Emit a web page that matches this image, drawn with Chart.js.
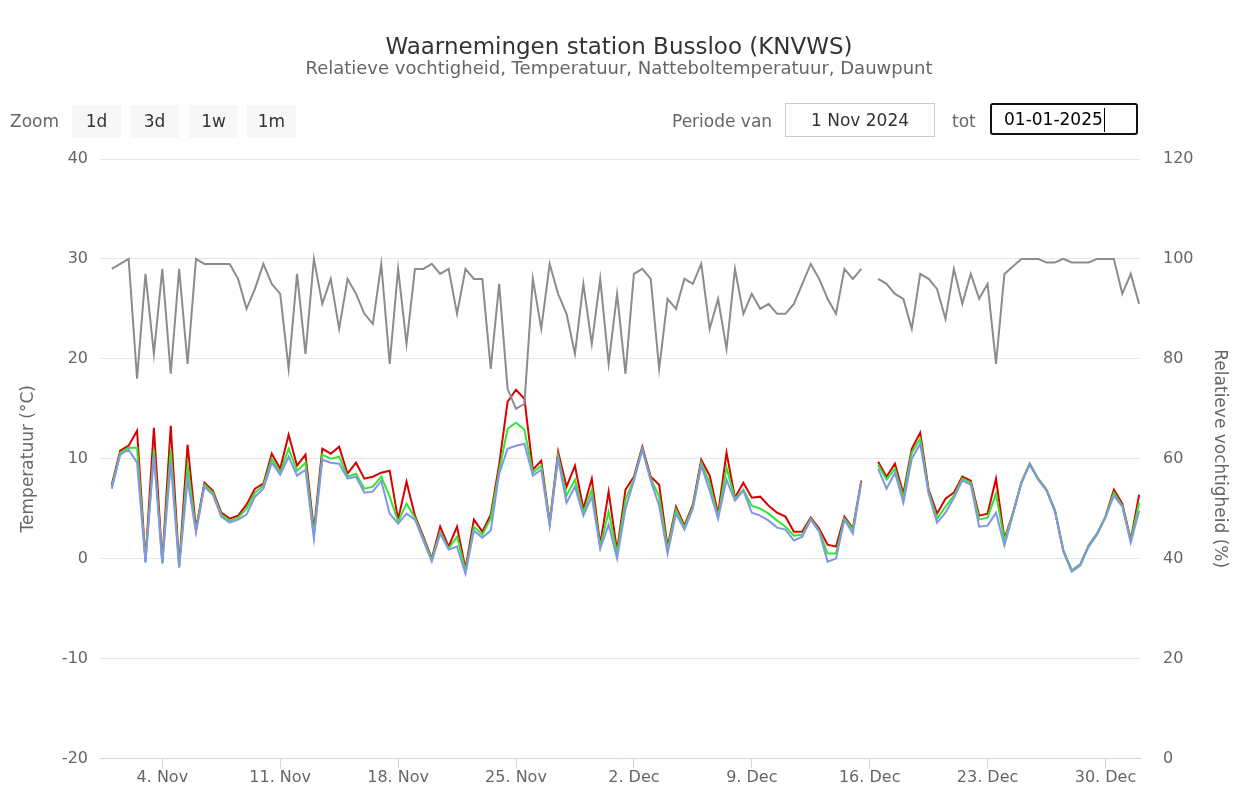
<!DOCTYPE html>
<html lang="nl">
<head>
<meta charset="utf-8">
<title>Waarnemingen station Bussloo (KNVWS)</title>
<script src="https://cdn.jsdelivr.net/npm/chart.js@4.4.1/dist/chart.umd.min.js"></script>
<style>
  body { margin: 0; background: #fff; font-family: "DejaVu Sans", sans-serif; }
  #wrap { position: relative; width: 1238px; height: 791px; }
  #chart { position: absolute; left: 0; top: 0; }
  .lbl { position: absolute; top: 105px; height: 33px; line-height: 33px; font-size: 17px; color: #666; }
  .btn { position: absolute; top: 105px; width: 49px; height: 33px; line-height: 33px; background: #f7f7f7;
         color: #333; font-size: 17px; text-align: center; }
  .inp { position: absolute; top: 103px; height: 34px; line-height: 32px; border: 1px solid #ccc;
         color: #333; font-size: 17px; text-align: center; box-sizing: border-box; }
  .inp.actief { border: 2px solid #111; border-radius: 3px; color: #000; line-height: 28px; height: 32px;
                text-align: left; padding-left: 12px; }
  .cursor { display: inline-block; width: 1px; height: 24px; background: #000; vertical-align: middle; margin-left: 1px; }
</style>
</head>
<body>
<div id="wrap">
  <canvas id="chart" width="1238" height="791"></canvas>
  <div class="lbl" style="left:10px">Zoom</div>
  <div class="btn" style="left:72px">1d</div>
  <div class="btn" style="left:130px">3d</div>
  <div class="btn" style="left:189px">1w</div>
  <div class="btn" style="left:247px">1m</div>
  <div class="lbl" style="left:672px">Periode van</div>
  <div class="inp" style="left:785px;width:150px">1 Nov 2024</div>
  <div class="lbl" style="left:952px">tot</div>
  <div class="inp actief" style="left:990px;width:148px">01-01-2025<span class="cursor"></span></div>
</div>
<script>
// metingen om de 12 uur, vanaf 1 nov 2024 00:00
const stapUren = 12;
const tickDagen = [3, 10, 17, 24, 31, 38, 45, 52, 59];
const tickLabels = ['4. Nov', '11. Nov', '18. Nov', '25. Nov', '2. Dec', '9. Dec', '16. Dec', '23. Dec', '30. Dec'];

const temperatuur = [
  7.4, 10.8, 11.3, 12.8, -0.2, 13.1, -0.3, 13.3, -0.7, 11.4, 3.0, 7.6, 6.8, 4.6,
  4.0, 4.3, 5.4, 7.0, 7.5, 10.5, 9.0, 12.4, 9.3, 10.4, 2.8, 11.0, 10.5, 11.2,
  8.5, 9.6, 8.0, 8.2, 8.6, 8.8, 3.9, 7.7, 4.3, 2.2, 0.0, 3.2, 1.2, 3.2,
  -1.0, 3.9, 2.7, 4.4, 9.4, 15.7, 16.9, 16.0, 8.9, 9.8, 3.6, 10.7, 7.2, 9.3,
  5.0, 8.0, 1.4, 6.7, 0.8, 6.9, 8.2, 11.2, 8.2, 7.4, 1.2, 5.2, 3.3, 5.4,
  9.9, 8.3, 4.5, 10.6, 6.1, 7.6, 6.1, 6.2, 5.3, 4.6, 4.2, 2.7, 2.7, 4.1,
  3.0, 1.4, 1.2, 4.2, 3.0, 7.8, null, 9.7, 8.2, 9.5, 6.5, 11.0, 12.6, 6.9,
  4.5, 6.0, 6.6, 8.2, 7.8, 4.3, 4.5, 8.0, 2.0, 4.5, 7.6, 9.5, 8.0, 6.9,
  4.8, 0.8, -1.2, -0.6, 1.3, 2.5, 4.2, 6.9, 5.5, 1.9, 6.4
];
const natteBol = [
  7.2, 10.6, 11.1, 11.1, -0.3, 10.9, -0.4, 10.9, -0.8, 9.3, 2.8, 7.4, 6.6, 4.4,
  3.8, 4.1, 5.0, 6.6, 7.3, 10.0, 8.6, 11.0, 8.8, 9.6, 2.4, 10.4, 10.0, 10.2,
  8.2, 8.5, 7.0, 7.2, 8.2, 6.2, 3.7, 5.5, 4.1, 2.0, -0.1, 2.7, 1.0, 2.2,
  -1.2, 3.2, 2.4, 4.0, 8.8, 13.0, 13.6, 12.9, 8.6, 9.3, 3.5, 10.3, 6.3, 7.9,
  4.6, 6.9, 1.2, 4.7, 0.5, 5.9, 8.0, 11.0, 8.0, 6.2, 0.9, 4.9, 3.1, 5.2,
  9.6, 7.5, 4.2, 9.1, 6.0, 6.9, 5.3, 5.0, 4.5, 3.8, 3.2, 2.3, 2.4, 4.0,
  2.8, 0.5, 0.5, 4.0, 2.9, 7.7, null, 9.4, 7.9, 9.0, 6.1, 10.6, 12.0, 6.7,
  4.0, 5.2, 6.3, 8.0, 7.6, 3.9, 4.1, 6.5, 1.8, 4.5, 7.6, 9.5, 8.0, 6.9,
  4.8, 0.8, -1.2, -0.6, 1.3, 2.5, 4.2, 6.6, 5.3, 1.8, 5.6
];
const dauwpunt = [
  7.0, 10.4, 10.9, 9.6, -0.4, 10.3, -0.5, 9.6, -0.9, 7.9, 2.6, 7.2, 6.4, 4.2,
  3.6, 3.9, 4.4, 6.2, 7.0, 9.6, 8.4, 10.2, 8.3, 8.9, 2.0, 9.9, 9.6, 9.5,
  8.0, 8.2, 6.6, 6.7, 7.8, 4.5, 3.5, 4.5, 3.9, 1.8, -0.3, 2.5, 0.9, 1.2,
  -1.5, 2.8, 2.1, 2.8, 8.5, 11.0, 11.3, 11.5, 8.3, 8.9, 3.3, 10.0, 5.6, 7.2,
  4.3, 6.2, 1.0, 3.4, 0.0, 5.0, 7.8, 10.9, 7.8, 5.3, 0.5, 4.5, 2.9, 5.0,
  9.3, 6.8, 4.0, 7.9, 5.8, 6.8, 4.6, 4.3, 3.8, 3.1, 2.9, 1.8, 2.2, 3.9,
  2.7, -0.3, 0.0, 3.9, 2.5, 7.6, null, 9.0, 7.0, 8.6, 5.6, 10.0, 11.5, 6.5,
  3.6, 4.6, 6.1, 7.8, 7.4, 3.2, 3.3, 4.6, 1.3, 4.4, 7.5, 9.4, 7.9, 6.8,
  4.7, 0.7, -1.3, -0.7, 1.2, 2.4, 4.1, 6.3, 5.2, 1.6, 4.8
];
const vochtigheid = [
  98, 99, 100, 76, 97, 81, 98, 77, 98, 79, 100, 99, 99, 99,
  99, 96, 90, 94, 99, 95, 93, 78, 97, 81, 100, 91, 96, 86,
  96, 93, 89, 87, 99, 79, 98, 83, 98, 98, 99, 97, 98, 89,
  98, 96, 96, 78, 95, 74, 70, 71, 96, 86, 99, 93, 89, 81,
  95, 83, 96, 79, 93, 77, 97, 98, 96, 78, 92, 90, 96, 95,
  99, 86, 92, 82, 98, 89, 93, 90, 91, 89, 89, 91, 95, 99,
  96, 92, 89, 98, 96, 98, null, 96, 95, 93, 92, 86, 97, 96,
  94, 88, 98, 91, 97, 92, 95, 79, 97, 98.5, 100, 100, 100, 99.3,
  99.3, 100, 99.3, 99.3, 99.3, 100, 100, 100, 93, 97, 91
];

const naarPunten = arr => arr.map((v, i) => ({ x: i * stapUren / 24, y: v }));

Chart.defaults.font.family = '"DejaVu Sans", sans-serif';
Chart.defaults.color = '#666';

function lijn(label, data, kleur, as, volgorde) {
  return {
    label: label,
    data: naarPunten(data),
    borderColor: kleur,
    backgroundColor: kleur,
    borderWidth: 2,
    pointRadius: 0,
    tension: 0,
    spanGaps: false,
    yAxisID: as,
    order: volgorde
  };
}

new Chart(document.getElementById('chart'), {
  type: 'line',
  data: {
    datasets: [
      lijn('Relatieve vochtigheid', vochtigheid, '#8c8c8c', 'y1', 0),
      lijn('Dauwpunt', dauwpunt, '#8395e6', 'y', 1),
      lijn('Natteboltemperatuur', natteBol, '#33e633', 'y', 2),
      lijn('Temperatuur', temperatuur, '#d90000', 'y', 3)
    ]
  },
  options: {
    responsive: false,
    animation: false,
    layout: { padding: 0 },
    plugins: {
      legend: { display: false },
      tooltip: { enabled: false },
      title: {
        display: true,
        text: 'Waarnemingen station Bussloo (KNVWS)',
        color: '#333',
        font: { size: 23, weight: 'normal', lineHeight: 1 },
        padding: { top: 37, bottom: 0 }
      },
      subtitle: {
        display: true,
        text: 'Relatieve vochtigheid, Temperatuur, Natteboltemperatuur, Dauwpunt',
        color: '#666',
        font: { size: 18, lineHeight: 1 },
        padding: { top: 0, bottom: 81 }
      }
    },
    scales: {
      x: {
        type: 'linear',
        min: -0.7,
        max: 61.05,
        afterBuildTicks: s => { s.ticks = tickDagen.map(v => ({ value: v })); },
        afterFit: s => { s.height = 32; },
        ticks: {
          autoSkip: false,
          maxRotation: 0,
          color: '#666',
          font: { size: 16 },
          padding: 0,
          callback: v => tickLabels[tickDagen.indexOf(v)]
        },
        grid: { drawOnChartArea: false, drawTicks: true, tickLength: 10, tickColor: '#ccd6eb' },
        border: { color: '#ccd6eb', width: 1 }
      },
      y: {
        position: 'left',
        min: -20,
        max: 40,
        afterFit: s => { s.width = 100; },
        ticks: { stepSize: 10, color: '#666', font: { size: 16 }, padding: 12 },
        grid: { color: '#e6e6e6', drawTicks: false },
        border: { display: false },
        title: { display: true, text: 'Temperatuur (°C)', color: '#666', font: { size: 17 }, padding: { top: 18 } }
      },
      y1: {
        position: 'right',
        min: 0,
        max: 120,
        afterFit: s => { s.width = 98; },
        ticks: { stepSize: 20, color: '#666', font: { size: 16 }, padding: 23 },
        grid: { drawOnChartArea: false, drawTicks: false },
        border: { display: false },
        title: { display: true, text: 'Relatieve vochtigheid (%)', color: '#666', font: { size: 17 }, padding: { top: 8 } }
      }
    }
  }
});
</script>
</body>
</html>
